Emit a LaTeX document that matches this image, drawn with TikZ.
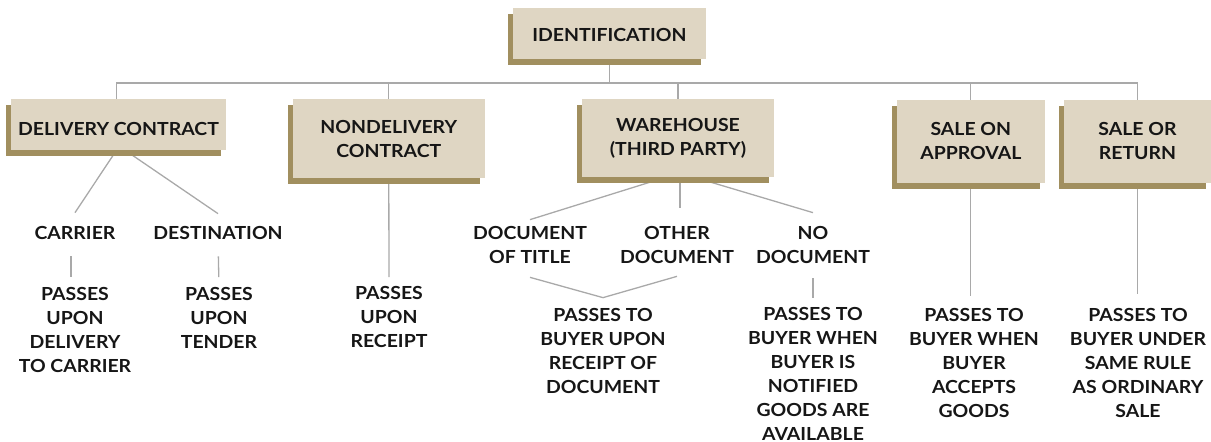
\documentclass[tikz,border=0pt]{standalone}
\usepackage{fontspec}
\setmainfont{Lato}[FakeStretch=1.08]
\usepackage{xcolor}
\usepackage{tikz}
\usetikzlibrary{calc}
\usetikzlibrary{shadows,backgrounds}
\definecolor{boxfill}{HTML}{DFD6C3}
\definecolor{boxshade}{HTML}{A18F5F}
\definecolor{linegray}{HTML}{A9A9A9}
\definecolor{inktext}{HTML}{161616}
\newcommand{\chartfont}{\fontsize{18}{24}\bfseries\selectfont}

\begin{document}
\begin{tikzpicture}[x=1pt,y=-1pt,
    box/.style={fill=boxfill, inner sep=0pt, align=center, font=\chartfont, text=inktext,
      drop shadow={shadow xshift=-5pt, shadow yshift=-6pt, fill=boxshade, opacity=1}},
    lbl/.style={inner sep=0pt, align=center, font=\chartfont, text=inktext, anchor=base},
    conn/.style={draw=linegray, line width=1.3pt}]
    %RAMA
    \useasboundingbox (0,0) rectangle (1211,442);
    \coordinate (bus) at (0,83);
    %KOTAK
    \node[box, minimum width=193pt, minimum height=51pt, text height=16pt] (ident) at (609.4,33.4) {IDENTIFICATION};
    \node[box, minimum width=215pt, minimum height=51pt, text height=23pt] (deliv) at (118.5,124.5) {DELIVERY CONTRACT};
    \node[box, minimum width=192pt, minimum height=79pt] (nondeliv) at (388.8,138.6) {NONDELIVERY\\CONTRACT};
    \node[box, minimum width=192pt, minimum height=78pt] (ware) at (678,138.3) {WAREHOUSE\\(THIRD PARTY)};
    \node[box, minimum width=148pt, minimum height=83pt] (approv) at (970.8,141.3) {SALE ON\\APPROVAL};
    \node[box, minimum width=147pt, minimum height=83pt] (sret) at (1137.5,141.3) {SALE OR\\RETURN};
    %TEKS (base = last line)
    \node[lbl] (carrier) at (75,239) {CARRIER};
    \node[lbl] (dest) at (218,239) {DESTINATION};
    \node[lbl] (pcarrier) at (75,372) {PASSES\\UPON\\DELIVERY\\TO CARRIER};
    \node[lbl] (pdest) at (219,348) {PASSES\\UPON\\TENDER};
    \node[lbl] (preceipt) at (389,347.5) {PASSES\\UPON\\RECEIPT};
    \node[lbl] (doctitle) at (530,263) {DOCUMENT\\OF TITLE};
    \node[lbl] (otherdoc) at (677,263) {OTHER\\DOCUMENT};
    \node[lbl] (nodoc) at (813,263) {NO\\DOCUMENT};
    \node[lbl] (pdoc) at (603,393) {PASSES TO\\BUYER UPON\\RECEIPT OF\\DOCUMENT};
    \node[lbl] (pnotif) at (813,440) {PASSES TO\\BUYER WHEN\\BUYER IS\\NOTIFIED\\GOODS ARE\\AVAILABLE};
    \node[lbl] (paccept) at (974,417) {PASSES TO\\BUYER WHEN\\BUYER\\ACCEPTS\\GOODS};
    \node[lbl] (psame) at (1138,417) {PASSES TO\\BUYER UNDER\\SAME RULE\\AS ORDINARY\\SALE};
    %GARIS
    \begin{scope}[on background layer]
    \draw[conn] (ident.south) -- (ident.south |- bus);
    \draw[conn] ([xshift=-2pt]deliv.north) |- (sret.north |- bus) -- (sret.north);
    \foreach \n in {nondeliv,ware,approv}
        \draw[conn] (\n.north) -- (\n.north |- bus);
    \draw[conn] ([xshift=-2pt]deliv.south) -- ([yshift=13pt]carrier.north);
    \draw[conn] ([xshift=6.5pt]deliv.south) -- ([yshift=12pt]dest.north);
    \draw[conn, shorten >=9pt] (nondeliv.south) -- (preceipt.north);
    \draw[conn] ([xshift=-13pt]ware.south) -- ([yshift=6pt]doctitle.north);
    \draw[conn, shorten >=18pt] ([xshift=2pt]ware.south) -- ([xshift=2pt]ware.south |- otherdoc.north);
    \draw[conn] ([xshift=17pt]ware.south) -- ([yshift=13pt]nodoc.north);
    \draw[conn, shorten >=12pt] (approv.south) -- (approv.south |- paccept.north);
    \draw[conn, shorten >=14pt] (sret.south) -- (sret.south |- psame.north);
    \end{scope}
    \draw[conn, shorten <=17pt, shorten >=9.5pt] ([xshift=-4pt]carrier.south) -- ([xshift=-4pt]pcarrier.north);
    \draw[conn, shorten <=17pt, shorten >=9.5pt] (dest.south) -- (pdest.north);
    \draw[conn] ([yshift=-14pt]doctitle.south) -- ([yshift=10pt]pdoc.north) -- ([yshift=-13pt]otherdoc.south);
    \draw[conn, shorten <=15pt, shorten >=9pt] (nodoc.south) -- (pnotif.north);
\end{tikzpicture}
\end{document}
